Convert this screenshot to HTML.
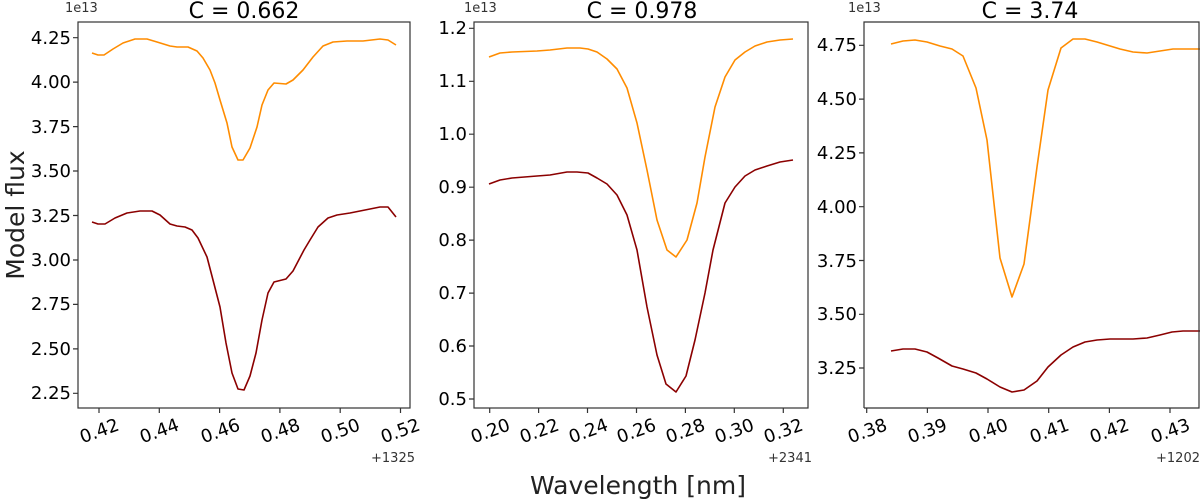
<!DOCTYPE html>
<html><head><style>body{margin:0;background:#fff}svg{display:block}text{font-family:"DejaVu Sans","Liberation Sans",sans-serif;fill:#000}</style></head>
<body>
<svg width="1200" height="500" viewBox="0 0 1200 500">
<defs><clipPath id="c3"><rect x="864" y="22" width="336" height="386"/></clipPath></defs>
<g fill="none" stroke-width="1.6" stroke-linejoin="round">
<polyline stroke="#ff8c00" points="92,53 98,55 104,55 113,49 123,43 135,39 147,39 157,42 170,46 177,47 188,47 197,51 203,58 210,70 215,83 220,100 227,123 232,147 238,160 243,160 250,148 257,127 262,105 268,90 274,83 286,84 293,80 303,70 313,57 323,46 333,42 347,41 363,41 380,39 388,40 396,45"/>
<polyline stroke="#8b0000" points="92,222 98,224 105,224 115,218 127,213 140,211 152,211 160,215 170,224 177,226 185,227 192,230 198,238 207,257 213,280 220,307 226,343 232,373 238,389 244,390 250,376 256,353 262,320 268,293 274,282 286,279 293,271 304,250 310,240 318,227 328,218 337,215 350,213 365,210 380,207 388,207 396,217"/>
<polyline stroke="#ff8c00" points="489,57 500,53 512,52 537,51 550,50 567,48 580,48 588,49 597,52 607,59 617,69 627,88 637,123 647,170 657,220 667,250 676,257 687,240 697,203 705,157 715,107 725,77 735,60 745,52 755,46 767,42 780,40 793,39"/>
<polyline stroke="#8b0000" points="489,184 500,180 512,178 537,176 550,175 567,172 577,172 588,173 597,178 607,184 617,195 627,215 637,250 647,307 657,355 666,384 676,392 686,376 695,340 705,293 713,250 725,203 735,187 745,176 755,170 767,166 780,162 793,160"/>
<g clip-path="url(#c3)">
<polyline stroke="#ff8c00" points="891,44 903,41 915,40 927,42 940,46 952,49 963,56 976,88 987,140 1000,258 1012,297 1024,264 1037,167 1048,90 1061,48 1073,39 1085,39 1097,42 1120,49 1133,52 1147,53 1160,51 1173,49 1187,49 1200,49"/>
<polyline stroke="#8b0000" points="891,351 903,349 915,349 927,352 938,358 952,366 963,369 976,373 987,379 1000,387 1012,392 1024,390 1037,381 1048,367 1061,355 1073,347 1085,342 1097,340 1110,339 1133,339 1147,338 1160,335 1172,332 1183,331 1200,331"/>
</g>
</g>
<g fill="none" stroke="#333" stroke-width="1.2">
<rect x="78" y="22" width="332" height="386"/>
<rect x="474" y="22" width="334" height="386"/>
<path d="M864,408 V22 H1199 V408 H864"/>
<path d="M78,37.7h-5M78,82.1h-5M78,126.6h-5M78,171h-5M78,215.5h-5M78,260h-5M78,304.4h-5M78,348.9h-5M78,393.3h-5"/>
<path d="M99,408v5M159.3,408v5M219.6,408v5M279.9,408v5M340.2,408v5M400.5,408v5"/>
<path d="M474,28.3h-5M474,81.3h-5M474,134.2h-5M474,187.2h-5M474,240.1h-5M474,293.1h-5M474,346h-5M474,399h-5"/>
<path d="M489.7,408v5M538.6,408v5M587.5,408v5M636.5,408v5M685.4,408v5M734.3,408v5M783.3,408v5"/>
<path d="M864,45.3h-5M864,99.1h-5M864,152.9h-5M864,206.7h-5M864,260.5h-5M864,314.3h-5M864,368h-5"/>
<path d="M866.7,408v5M927.4,408v5M988,408v5M1048.7,408v5M1109.4,408v5M1170,408v5"/>
</g>
<g font-size="18" text-anchor="end">
<text x="71" y="44">4.25</text><text x="71" y="88">4.00</text><text x="71" y="133">3.75</text><text x="71" y="177">3.50</text><text x="71" y="222">3.25</text><text x="71" y="266">3.00</text><text x="71" y="310">2.75</text><text x="71" y="355">2.50</text><text x="71" y="399">2.25</text>
<text x="467" y="34">1.2</text><text x="467" y="87">1.1</text><text x="467" y="140">1.0</text><text x="467" y="193">0.9</text><text x="467" y="246">0.8</text><text x="467" y="299">0.7</text><text x="467" y="352">0.6</text><text x="467" y="405">0.5</text>
<text x="857" y="51">4.75</text><text x="857" y="105">4.50</text><text x="857" y="159">4.25</text><text x="857" y="213">4.00</text><text x="857" y="267">3.75</text><text x="857" y="320">3.50</text><text x="857" y="374">3.25</text>
</g>
<g font-size="18" text-anchor="middle">
<text x="99" y="437" transform="rotate(-20 99 430)">0.42</text>
<text x="159" y="437" transform="rotate(-20 159 430)">0.44</text>
<text x="220" y="437" transform="rotate(-20 220 430)">0.46</text>
<text x="280" y="437" transform="rotate(-20 280 430)">0.48</text>
<text x="340" y="437" transform="rotate(-20 340 430)">0.50</text>
<text x="400" y="437" transform="rotate(-20 400 430)">0.52</text>
<text x="490" y="437" transform="rotate(-20 490 430)">0.20</text>
<text x="539" y="437" transform="rotate(-20 539 430)">0.22</text>
<text x="588" y="437" transform="rotate(-20 588 430)">0.24</text>
<text x="636" y="437" transform="rotate(-20 636 430)">0.26</text>
<text x="685" y="437" transform="rotate(-20 685 430)">0.28</text>
<text x="734" y="437" transform="rotate(-20 734 430)">0.30</text>
<text x="783" y="437" transform="rotate(-20 783 430)">0.32</text>
<text x="867" y="437" transform="rotate(-20 867 430)">0.38</text>
<text x="927" y="437" transform="rotate(-20 927 430)">0.39</text>
<text x="988" y="437" transform="rotate(-20 988 430)">0.40</text>
<text x="1049" y="437" transform="rotate(-20 1049 430)">0.41</text>
<text x="1109" y="437" transform="rotate(-20 1109 430)">0.42</text>
<text x="1170" y="437" transform="rotate(-20 1170 430)">0.43</text>
</g>
<g font-size="13">
<text x="415" y="462" text-anchor="end" style="fill:#333">+1325</text>
<text x="812" y="462" text-anchor="end" style="fill:#333">+2341</text>
<text x="1200" y="462" text-anchor="end" style="fill:#333">+1202</text>
<text x="65" y="12" style="fill:#333">1e13</text>
<text x="464" y="12" style="fill:#333">1e13</text>
<text x="848" y="12" style="fill:#333">1e13</text>
</g>
<g font-size="22" text-anchor="middle">
<text x="244" y="18">C = 0.662</text>
<text x="642" y="18">C = 0.978</text>
<text x="1030" y="18">C = 3.74</text>
</g>
<text x="0" y="0" font-size="25" text-anchor="middle" transform="translate(24 215) rotate(-90)" style="fill:#222">Model flux</text>
<text x="638" y="494" font-size="25" text-anchor="middle" style="fill:#222">Wavelength [nm]</text>
</svg>
</body></html>
